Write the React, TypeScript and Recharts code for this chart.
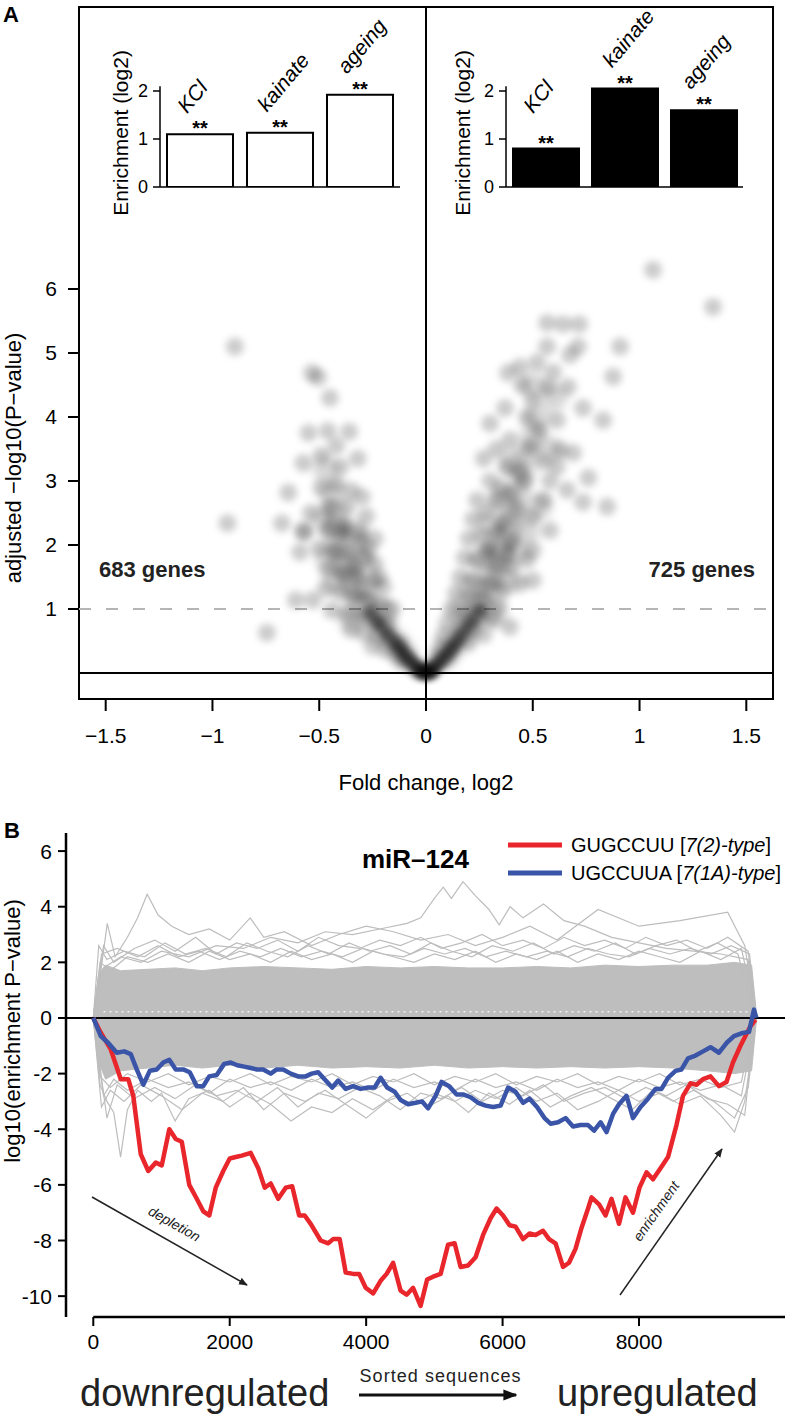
import React from 'react';
import {
  ScatterChart, Scatter, XAxis, YAxis, ReferenceLine, ReferenceArea,
  BarChart, Bar, LabelList, ComposedChart, Line, Area,
} from 'recharts';

const FONT = "'Liberation Sans', Arial, Helvetica, sans-serif";

// ---------- Panel A data ----------
const volcanoTicksX = [-1.5, -1, -0.5, 0, 0.5, 1, 1.5];
const volcanoTicksY = [1, 2, 3, 4, 5, 6];

const volcanoDown: number[][] = [
  [-0.895, 5.1], [-0.93, 2.34], [-0.745, 0.63], [-0.675, 2.34], [-0.645, 2.82], [-0.61, 1.14], [-0.53, 1.14], [-0.59, 1.89], [-0.575, 2.23],
  [-0.535, 4.69], [-0.505, 4.62], [-0.45, 4.3], [-0.55, 3.75], [-0.46, 3.78], [-0.36, 3.77], [-0.575, 3.28], [-0.49, 3.4], [-0.4, 3.22],
  [-0.32, 3.35], [-0.49, 2.9], [-0.54, 2.5], [-0.45, 2.6], [-0.37, 2.6], [-0.57, 2.19], [-0.46, 2.23], [-0.39, 2.19], [-0.31, 2.19],
  [-0.42, 2.95], [-0.35, 2.85], [-0.42, 3.55], [-0.3, 2.75], [-0.28, 2.45],
  [-0.5, 1.95], [-0.43, 1.9], [-0.36, 1.88], [-0.29, 1.82], [-0.24, 1.7], [-0.46, 1.62], [-0.39, 1.56], [-0.32, 1.5], [-0.25, 1.45],
  [-0.2, 1.35], [-0.47, 1.32], [-0.4, 1.26], [-0.34, 1.2], [-0.27, 1.15], [-0.21, 1.08], [-0.44, 0.98], [-0.37, 0.93], [-0.3, 0.88],
  [-0.24, 0.82], [-0.18, 0.76], [-0.35, 0.68], [-0.29, 0.62], [-0.23, 0.58], [-0.17, 0.52], [-0.12, 0.46], [-0.25, 0.42], [-0.19, 0.36],
  [-0.14, 0.32], [-0.09, 0.26], [-0.12, 0.2], [-0.08, 0.15], [-0.05, 0.09], [-0.03, 0.04], [-0.27, 1.95], [-0.22, 1.5], [-0.16, 1.0],
  [-0.33, 1.65], [-0.38, 2.3], [-0.31, 2.05], [-0.24, 2.1],
];

const volcanoUp: number[][] = [
  [1.063, 6.3], [1.344, 5.72], [0.909, 5.1], [0.876, 4.63], [0.829, 3.95], [0.848, 2.6], [0.76, 3.05], [0.393, 0.72],
  [0.567, 5.47], [0.642, 5.45], [0.717, 5.45], [0.567, 5.1], [0.674, 4.97], [0.712, 5.1], [0.44, 4.78], [0.384, 4.69], [0.595, 4.7],
  [0.571, 4.47], [0.665, 4.47], [0.37, 4.14], [0.5, 4.27], [0.473, 4.0], [0.613, 3.95], [0.735, 4.14], [0.393, 3.64], [0.487, 3.53],
  [0.628, 3.48], [0.689, 3.44], [0.38, 3.22], [0.44, 3.13], [0.613, 3.22], [0.66, 2.86], [0.735, 2.67], [0.33, 2.7], [0.426, 2.55],
  [0.5, 2.44], [0.58, 2.23], [0.33, 2.19], [0.286, 1.92], [0.5, 1.92], [0.473, 1.77], [0.5, 1.45], [0.44, 1.4],
  [0.3, 3.0], [0.35, 2.9], [0.27, 3.35], [0.33, 3.5], [0.3, 3.9], [0.45, 4.5], [0.52, 4.85], [0.53, 3.8], [0.55, 3.3], [0.58, 3.0],
  [0.4, 2.8], [0.46, 3.0], [0.55, 2.7],
  [0.22, 2.4], [0.28, 2.5], [0.2, 2.1], [0.26, 2.15], [0.4, 2.05], [0.18, 1.8], [0.24, 1.75], [0.33, 1.7], [0.4, 1.65], [0.16, 1.5],
  [0.22, 1.45], [0.3, 1.4], [0.36, 1.3], [0.14, 1.25], [0.2, 1.2], [0.27, 1.15], [0.34, 1.05], [0.12, 1.0], [0.18, 0.95], [0.25, 0.9],
  [0.31, 0.85], [0.1, 0.78], [0.16, 0.73], [0.22, 0.68], [0.08, 0.58], [0.14, 0.53], [0.2, 0.48], [0.07, 0.4], [0.12, 0.35], [0.05, 0.25],
  [0.09, 0.2], [0.04, 0.12], [0.02, 0.05], [0.27, 0.6], [0.24, 2.7], [0.36, 2.35], [0.3, 1.95], [0.38, 1.85],
];

// broad, soft mass along both arms
const volcanoBody: number[][] = [
  [-0.1, 0.3], [-0.15, 0.5], [-0.2, 0.7], [-0.25, 0.9], [-0.3, 1.1], [-0.33, 1.3], [-0.36, 1.5], [-0.38, 1.7], [-0.4, 1.9], [-0.41, 2.1],
  [-0.42, 2.3], [-0.43, 2.5], [-0.2, 0.95], [-0.35, 0.85], [-0.28, 1.3], [-0.42, 1.45], [-0.3, 1.75], [-0.46, 1.8], [-0.33, 2.2],
  [-0.48, 2.4], [-0.44, 2.8], [-0.47, 3.2],
  [0.1, 0.3], [0.15, 0.5], [0.19, 0.7], [0.23, 0.9], [0.26, 1.1], [0.29, 1.3], [0.31, 1.5], [0.33, 1.7], [0.35, 1.9], [0.37, 2.1],
  [0.39, 2.3], [0.41, 2.5], [0.43, 2.8], [0.45, 3.1], [0.47, 3.4], [0.5, 3.7], [0.52, 4.0], [0.17, 1.0], [0.32, 0.9], [0.22, 1.35],
  [0.38, 1.45], [0.26, 1.8], [0.42, 1.9], [0.3, 2.3], [0.47, 2.2], [0.35, 2.7], [0.53, 2.6], [0.4, 3.3], [0.58, 3.5], [0.5, 4.5],
  [0.6, 4.3],
];

const volcanoCore: number[][] = [
  [0, 0.01], [-0.02, 0.04], [0.02, 0.04], [-0.04, 0.09], [0.04, 0.09], [-0.06, 0.15], [0.06, 0.15], [-0.08, 0.22], [0.08, 0.22],
  [-0.1, 0.3], [0.1, 0.3], [-0.12, 0.38], [0.12, 0.38], [-0.14, 0.47], [0.14, 0.47], [-0.17, 0.57], [0.16, 0.57], [-0.2, 0.68],
  [0.19, 0.7], [-0.23, 0.8], [0.22, 0.82], [-0.01, 0.0], [0.01, 0.0], [-0.03, 0.02], [0.03, 0.02], [-0.26, 0.95], [0.25, 0.98],
];

const insetNames = ['KCl', 'kainate', 'ageing'];
const insetLeftValues = [1.1, 1.13, 1.92];
const insetRightValues = [0.8, 2.05, 1.6];
const insetTicks = [0, 1, 2];

// ---------- Panel B data ----------
const seqTicksX = [0, 2000, 4000, 6000, 8000];
const seqTicksY = [-10, -8, -6, -4, -2, 0, 2, 4, 6];

const bandX = [0, 80, 180, 400, 800, 1200, 1600, 2000, 2500, 3000, 3500, 4000, 4500, 5000, 5500, 6000, 6500, 7000, 7500, 8000, 8500, 9000, 9400, 9650, 9720];
const bandLow = [0, -1.6, -2.2, -1.9, -1.8, -1.7, -1.8, -1.7, -1.8, -1.7, -1.8, -1.75, -1.8, -1.7, -1.8, -1.75, -1.8, -1.75, -1.8, -1.75, -1.8, -1.9, -2.0, -1.9, -0.1];
const bandHigh = [0, 1.6, 1.9, 1.7, 1.75, 1.8, 1.7, 1.8, 1.85, 1.8, 1.75, 1.85, 1.8, 1.85, 1.8, 1.8, 1.85, 1.8, 1.9, 1.85, 1.9, 1.9, 2.0, 1.9, 0.2];

const grayUp1: number[][] = [[0, 0], [150, 1.8], [400, 2.2], [700, 2.0], [1000, 2.4], [1400, 2.2], [1800, 2.6], [2200, 2.5], [2600, 2.9], [3000, 2.7], [3400, 3.1], [3800, 3.0], [4200, 3.2], [4600, 3.4], [4800, 3.6], [5000, 4.3], [5130, 4.7], [5250, 4.3], [5420, 4.9], [5600, 4.4], [5800, 3.9], [5950, 3.35], [6110, 4.0], [6300, 3.6], [6600, 4.1], [6900, 3.5], [7200, 3.3], [7600, 2.9], [8000, 2.7], [8400, 2.5], [8800, 2.4], [9200, 2.3], [9600, 2.1], [9720, 0]];
const grayUp2: number[][] = [[0, 0], [100, 1.5], [205, 3.4], [320, 2.2], [500, 2.9], [650, 3.6], [790, 4.45], [950, 3.7], [1150, 3.3], [1400, 3.0], [1700, 3.2], [2000, 2.8], [2300, 3.6], [2500, 2.9], [2800, 3.1], [3200, 2.6], [3600, 3.0], [4000, 3.3], [4400, 3.1], [4800, 2.8], [5200, 3.0], [5600, 2.6], [6000, 2.9], [6400, 3.3], [6800, 2.8], [7400, 3.9], [8000, 3.3], [8600, 3.5], [9300, 3.8], [9550, 2.6], [9720, 0]];
const grayUp3: number[][] = [[0, 0], [150, 2.6], [300, 2.0], [600, 2.5], [900, 2.8], [1200, 2.4], [1500, 2.9], [1800, 2.3], [2100, 2.7], [2400, 2.5], [2700, 2.8], [3000, 2.4], [3300, 2.9], [3600, 2.6], [3900, 2.5], [4200, 2.8], [4500, 2.6], [4800, 2.9], [5100, 2.5], [5400, 2.7], [5700, 3.0], [6000, 2.6], [6300, 2.8], [6600, 2.5], [6900, 2.9], [7200, 2.6], [7500, 2.8], [7800, 2.5], [8100, 2.9], [8400, 2.6], [8700, 2.8], [9000, 2.5], [9300, 2.9], [9600, 2.4], [9720, 0]];
const grayUp4: number[][] = [[0, 0], [120, 2.3], [350, 2.5], [650, 2.2], [950, 2.6], [1250, 2.2], [1550, 2.4], [1850, 2.1], [2150, 2.4], [2450, 2.2], [2750, 2.5], [3050, 2.2], [3350, 2.4], [3650, 2.2], [3950, 2.5], [4250, 2.3], [4550, 2.2], [4850, 2.5], [5150, 2.3], [5450, 2.5], [5750, 2.2], [6050, 2.4], [6350, 2.2], [6650, 2.4], [6950, 2.2], [7250, 2.5], [7550, 2.3], [7850, 2.2], [8150, 2.5], [8450, 2.3], [8750, 2.5], [9050, 2.3], [9350, 2.6], [9620, 2.3], [9720, 0]];
const grayUp5: number[][] = [[0, 0], [100, 2.0], [250, 1.7], [500, 2.2], [800, 2.0], [1100, 2.3], [1400, 2.0], [1700, 2.4], [2000, 2.1], [2300, 2.3], [2600, 2.0], [2900, 2.4], [3200, 2.1], [3500, 2.3], [3800, 2.0], [4100, 2.4], [4400, 2.2], [4700, 2.0], [5000, 2.3], [5300, 2.1], [5600, 2.4], [5900, 2.0], [6200, 2.3], [6500, 2.1], [6800, 2.4], [7100, 2.0], [7400, 2.3], [7700, 2.1], [8000, 2.4], [8300, 2.2], [8600, 2.0], [8900, 2.4], [9200, 2.1], [9500, 2.5], [9700, 0.3]];
const grayUp6: number[][] = [[0, 0], [80, 2.6], [200, 2.1], [450, 2.4], [750, 2.2], [1050, 2.7], [1350, 2.3], [1650, 2.5], [1950, 2.2], [2250, 2.7], [2550, 2.4], [2850, 2.2], [3150, 2.6], [3450, 2.3], [3750, 2.7], [4050, 2.4], [4350, 2.6], [4650, 2.3], [4950, 2.7], [5250, 2.4], [5550, 2.2], [5850, 2.6], [6150, 2.4], [6450, 2.7], [6750, 2.3], [7050, 2.6], [7350, 2.4], [7650, 2.7], [7950, 2.3], [8250, 2.6], [8550, 2.8], [8850, 2.4], [9150, 2.7], [9450, 2.3], [9700, 0]];
const grayLow1: number[][] = [[0, 0], [100, -2.4], [200, -3.0], [300, -3.4], [400, -5.0], [500, -3.3], [650, -2.6], [850, -3.0], [1000, -2.7], [1200, -3.7], [1400, -2.9], [1700, -2.6], [2000, -3.2], [2300, -2.7], [2600, -3.1], [2900, -3.7], [3200, -3.2], [3500, -3.4], [3800, -2.9], [4100, -3.3], [4400, -2.8], [4700, -3.1], [5000, -2.7], [5300, -3.0], [5600, -2.6], [5900, -2.9], [6200, -2.5], [6500, -3.0], [6800, -2.7], [7100, -3.3], [7400, -3.0], [7700, -2.6], [8000, -3.0], [8300, -2.7], [8600, -3.1], [8900, -2.8], [9200, -3.5], [9400, -4.1], [9550, -3.0], [9720, 0]];
const grayLow2: number[][] = [[0, 0], [120, -3.2], [250, -2.6], [450, -3.0], [700, -2.4], [1000, -2.8], [1300, -3.3], [1600, -2.7], [1900, -3.0], [2200, -2.5], [2500, -3.3], [2800, -2.7], [3100, -3.0], [3400, -2.6], [3700, -3.1], [4000, -3.6], [4300, -3.0], [4600, -2.7], [4900, -3.2], [5200, -2.8], [5500, -3.4], [5800, -2.7], [6100, -3.1], [6400, -2.6], [6700, -3.2], [7000, -2.8], [7300, -2.5], [7600, -2.9], [7900, -3.3], [8200, -2.6], [8500, -3.0], [8800, -2.6], [9100, -3.0], [9400, -3.6], [9600, -2.5], [9720, 0]];
const grayLow3: number[][] = [[0, 0], [150, -2.8], [300, -2.2], [500, -2.6], [800, -2.2], [1100, -2.5], [1400, -2.3], [1700, -2.7], [2000, -2.2], [2300, -2.5], [2600, -2.3], [2900, -2.6], [3200, -2.2], [3500, -2.5], [3800, -2.3], [4100, -2.6], [4400, -2.2], [4700, -2.5], [5000, -2.3], [5300, -2.6], [5600, -2.2], [5900, -2.5], [6200, -2.3], [6500, -2.6], [6800, -2.2], [7100, -2.5], [7400, -2.3], [7700, -2.6], [8000, -2.2], [8300, -2.5], [8600, -2.3], [8900, -2.6], [9200, -2.4], [9500, -2.8], [9720, 0]];
const grayLow4: number[][] = [[0, 0], [100, -2.1], [250, -2.5], [500, -2.0], [800, -2.3], [1100, -2.0], [1400, -2.4], [1700, -2.1], [2000, -2.3], [2300, -2.0], [2600, -2.4], [2900, -2.1], [3200, -2.3], [3500, -2.0], [3800, -2.4], [4100, -2.1], [4400, -2.3], [4700, -2.0], [5000, -2.4], [5300, -2.1], [5600, -2.3], [5900, -2.0], [6200, -2.4], [6500, -2.1], [6800, -2.3], [7100, -2.0], [7400, -2.4], [7700, -2.1], [8000, -2.3], [8300, -2.0], [8600, -2.4], [8900, -2.2], [9200, -2.5], [9500, -2.3], [9700, 0]];
const grayLow5: number[][] = [[0, 0], [200, -3.6], [350, -2.4], [600, -2.9], [900, -2.5], [1200, -2.9], [1500, -2.4], [1800, -2.8], [2100, -2.6], [2400, -3.0], [2700, -2.5], [3000, -3.2], [3300, -2.7], [3600, -2.9], [3900, -2.5], [4200, -2.8], [4500, -3.3], [4800, -2.7], [5100, -2.9], [5400, -2.5], [5700, -3.0], [6000, -2.6], [6300, -2.8], [6600, -2.4], [6900, -3.0], [7200, -2.7], [7500, -2.5], [7800, -2.9], [8100, -2.5], [8400, -2.8], [8700, -2.4], [9000, -2.9], [9300, -3.1], [9550, -3.5], [9700, 0]];

const redSeed: number[][] = [[0, 0], [110, -0.53], [256, -1.13], [403, -2.2], [513, -2.2], [586, -2.8], [696, -4.9], [806, -5.5], [916, -5.2], [1004, -5.3], [1114, -4.0], [1209, -4.35], [1297, -4.45], [1407, -6.0], [1517, -6.5], [1612, -6.95], [1700, -7.1], [1795, -6.1], [1905, -5.5], [2000, -5.05], [2088, -5.0], [2176, -4.95], [2308, -4.85], [2418, -5.4], [2513, -6.1], [2601, -5.95], [2711, -6.5], [2821, -6.1], [2916, -6.05], [3018, -7.1], [3099, -7.1], [3187, -7.4], [3333, -8.0], [3443, -8.1], [3516, -7.95], [3612, -7.95], [3700, -9.15], [3810, -9.2], [3897, -9.2], [3993, -9.7], [4103, -9.9], [4212, -9.45], [4300, -9.2], [4395, -8.8], [4505, -9.8], [4593, -9.95], [4688, -9.7], [4798, -10.35], [4894, -9.4], [4982, -9.3], [5092, -9.2], [5201, -8.15], [5297, -8.1], [5385, -8.95], [5494, -8.9], [5604, -8.6], [5714, -7.8], [5824, -7.2], [5912, -6.85], [6007, -7.1], [6102, -7.45], [6190, -7.5], [6300, -7.95], [6395, -7.75], [6483, -7.8], [6593, -7.65], [6681, -7.95], [6776, -8.1], [6886, -8.95], [6974, -8.8], [7069, -8.3], [7157, -7.55], [7253, -6.85], [7304, -6.45], [7414, -6.7], [7509, -7.1], [7597, -6.5], [7707, -7.4], [7802, -6.45], [7912, -7.0], [8007, -6.1], [8110, -5.55], [8205, -5.8], [8315, -5.4], [8425, -5.0], [8549, -3.85], [8645, -2.8], [8755, -2.35], [8843, -2.4], [8938, -2.2], [9048, -2.1], [9172, -2.45], [9282, -2.3], [9377, -1.6], [9487, -1.0], [9633, -0.3], [9707, -0.06]];
const blueSeed: number[][] = [[0, 0], [110, -0.65], [220, -0.9], [344, -1.25], [454, -1.2], [549, -1.3], [637, -1.85], [733, -2.4], [828, -1.9], [930, -1.85], [1026, -1.6], [1114, -1.5], [1209, -1.85], [1319, -1.85], [1414, -1.95], [1517, -2.45], [1612, -2.45], [1700, -2.1], [1809, -2.05], [1919, -1.65], [2015, -1.6], [2110, -1.7], [2212, -1.75], [2308, -1.8], [2396, -1.85], [2491, -1.85], [2601, -2.0], [2689, -1.85], [2784, -1.85], [2894, -2.0], [3004, -2.1], [3114, -2.1], [3201, -2.0], [3297, -1.95], [3407, -2.25], [3502, -2.5], [3590, -2.25], [3700, -2.55], [3810, -2.45], [3919, -2.55], [4029, -2.5], [4124, -2.5], [4212, -2.15], [4307, -2.5], [4418, -2.65], [4505, -2.95], [4615, -3.1], [4725, -3.05], [4820, -3.0], [4908, -3.25], [5018, -2.8], [5106, -2.3], [5216, -2.45], [5326, -2.75], [5421, -2.75], [5531, -2.85], [5641, -3.05], [5751, -3.15], [5861, -3.2], [5971, -3.15], [6081, -2.5], [6190, -2.65], [6300, -3.05], [6395, -2.9], [6505, -3.2], [6615, -3.6], [6703, -3.8], [6813, -3.75], [6923, -3.6], [7033, -3.9], [7143, -3.85], [7253, -3.85], [7341, -4.05], [7436, -3.75], [7524, -4.1], [7619, -3.45], [7707, -3.1], [7817, -2.8], [7912, -3.6], [8022, -3.2], [8132, -2.9], [8242, -2.55], [8330, -2.55], [8425, -2.15], [8535, -1.9], [8623, -1.85], [8718, -1.45], [8828, -1.35], [8938, -1.2], [9048, -1.05], [9172, -1.25], [9282, -0.9], [9392, -0.65], [9502, -0.55], [9612, -0.5], [9685, 0.3], [9720, 0.0]];

// ---------- helpers ----------
const toXY = (arr: number[][]) => arr.map(([x, y]) => ({ x, y }));
const minus = (v: number) => String(v).replace('-', '\u2212');
const blob = (op: number, r: number, filt: string) => (p: any) => (
  <circle cx={p.cx} cy={p.cy} r={r} fill="#000" fillOpacity={op} filter={`url(#${filt})`} />
);

const bandTable = bandX.map((x, i) => ({ x, range: [bandLow[i], bandHigh[i]] }));
const grayLines = [grayUp1, grayUp2, grayUp3, grayUp4, grayUp5, grayUp6, grayLow1, grayLow2, grayLow3, grayLow4, grayLow5];

const insetLabel = (values: number[]) => (props: any) => {
  const { x, y, width, height, value } = props;
  const idx = insetNames.indexOf(value);
  const v = values[idx];
  const ppu = height / v;
  const base = y + height;
  const labelTop = base - Math.max(v, 1.1) * ppu;
  const cx = x + width / 2;
  const sx = cx - 13;
  const sy = labelTop - 20;
  return (
    <g>
      <text x={cx} y={y + 1} textAnchor="middle" fontSize={20} fontWeight="bold" fill="#000" fontFamily={FONT}>**</text>
      <text x={sx} y={sy} transform={`rotate(-50 ${sx} ${sy})`} fontSize={21} fontStyle="italic" fill="#000" fontFamily={FONT}>{value}</text>
    </g>
  );
};

const Inset = ({ values, fill, left, marginLeft, marginRight, width }: any) => {
  const data = insetNames.map((name, i) => ({ name, v: values[i] }));
  return (
    <div style={{ position: 'absolute', left, top: 0 }}>
      <BarChart width={width} height={200} data={data} margin={{ top: 86.2, right: marginRight, left: marginLeft, bottom: 13 }}>
        <XAxis dataKey="name" hide />
        <YAxis domain={[0, 2.1]} ticks={insetTicks} width={40} tickSize={7} tickMargin={5}
          axisLine={{ stroke: '#000', strokeWidth: 1.5 }} tickLine={{ stroke: '#000', strokeWidth: 1.5 }}
          tick={{ fill: '#000', fontSize: 18, fontFamily: FONT }} allowDataOverflow />
        <ReferenceLine y={0} stroke="#000" strokeWidth={1.5} />
        <Bar dataKey="v" fill={fill} stroke="#000" strokeWidth={2} barSize={66} isAnimationActive={false}>
          <LabelList dataKey="name" content={insetLabel(values)} />
        </Bar>
      </BarChart>
    </div>
  );
};

export default function App() {
  const tickA = { fill: '#000', fontSize: 21, fontFamily: FONT };
  const tickB = { fill: '#000', fontSize: 21, fontFamily: FONT };
  return (
    <div style={{ position: 'absolute', left: 0, top: 0, width: 787, height: 1416, background: '#fff', fontFamily: FONT, overflow: 'hidden' }}>
      {/* Panel A volcano */}
      <div style={{ position: 'absolute', left: 0, top: 0 }}>
        <ScatterChart width={787} height={800} margin={{ top: 7, right: 14, left: 19, bottom: 41 }}>
          <XAxis type="number" dataKey="x" domain={[-1.625, 1.625]} ticks={volcanoTicksX} allowDataOverflow height={60}
            tickSize={12} tickMargin={17} axisLine={false} tickLine={{ stroke: '#000', strokeWidth: 2 }} tick={tickA}
            tickFormatter={minus} />
          <YAxis type="number" dataKey="y" domain={[-0.406, 10.406]} ticks={volcanoTicksY} allowDataOverflow width={60}
            tickSize={11} tickMargin={11} axisLine={false} tickLine={{ stroke: '#000', strokeWidth: 2 }} tick={tickA} />
          <Scatter data={toXY(volcanoBody)} shape={blob(0.16, 13, 'blurC')} isAnimationActive={false} />
          <Scatter data={toXY(volcanoDown)} shape={blob(0.2, 9, 'blurA')} isAnimationActive={false} />
          <Scatter data={toXY(volcanoUp)} shape={blob(0.2, 9, 'blurA')} isAnimationActive={false} />
          <Scatter data={toXY(volcanoCore)} shape={blob(0.42, 7, 'blurB')} isAnimationActive={false} />
          <ReferenceLine y={1} stroke="#b5b5b5" strokeWidth={2} strokeDasharray="12 15" />
          <ReferenceLine y={0} stroke="#000" strokeWidth={2} />
          <ReferenceLine x={0} stroke="#000" strokeWidth={2} />
          <ReferenceArea x1={-1.625} x2={1.625} y1={-0.406} y2={10.406} fill="none" stroke="#000" strokeWidth={2} />
        </ScatterChart>
      </div>

      <Inset values={insetLeftValues} fill="#fff" left={100} width={310} marginLeft={20} marginRight={10} />
      <Inset values={insetRightValues} fill="#000" left={440} width={320} marginLeft={26} marginRight={17} />

      {/* Panel B */}
      <div style={{ position: 'absolute', left: 0, top: 800 }}>
        <ComposedChart width={787} height={616} data={bandTable} margin={{ top: 33, right: 2, left: 10, bottom: 49 }}>
          <XAxis type="number" dataKey="x" domain={[-400, 10140]} ticks={seqTicksX} allowDataOverflow height={50}
            tickSize={9} tickMargin={8} axisLine={false} tickLine={{ stroke: '#000', strokeWidth: 2 }} tick={tickB} />
          <YAxis type="number" domain={[-10.75, 6.65]} ticks={seqTicksY} allowDataOverflow width={56}
            tickSize={8} tickMargin={6} axisLine={{ stroke: '#000', strokeWidth: 2.5 }} tickLine={{ stroke: '#000', strokeWidth: 2 }} tick={tickB} />
          <Area dataKey="range" type="linear" fill="#bebebe" fillOpacity={1} stroke="#bebebe" strokeWidth={1} isAnimationActive={false} />
          {grayLines.map((g, i) => (
            <Line key={i} data={toXY(g)} dataKey="y" type="linear" stroke="#bdbdbd" strokeWidth={1.2} dot={false} isAnimationActive={false} />
          ))}
          <Line data={toXY([[150, 0.22], [9600, 0.22]])} dataKey="y" stroke="#fff" strokeOpacity={0.75} strokeWidth={1.5} strokeDasharray="2 4" dot={false} isAnimationActive={false} />
          <Line data={toXY([[-400, 0], [10140, 0]])} dataKey="y" stroke="#000" strokeWidth={2} dot={false} isAnimationActive={false} />
          <Line data={toXY(redSeed)} dataKey="y" type="linear" stroke="#e8262b" strokeWidth={4.5} strokeLinejoin="round" dot={false} isAnimationActive={false} />
          <Line data={toXY(blueSeed)} dataKey="y" type="linear" stroke="#3a55a8" strokeWidth={4.5} strokeLinejoin="round" dot={false} isAnimationActive={false} />
          <ReferenceLine segment={[{ x: 0, y: -10.75 }, { x: 10140, y: -10.75 }]} stroke="#000" strokeWidth={2.5} ifOverflow="visible" />
        </ComposedChart>
      </div>

      {/* Annotations */}
      <svg width={787} height={1416} style={{ position: 'absolute', left: 0, top: 0, pointerEvents: 'none' }} fontFamily={FONT}>
        <defs>
          <filter id="blurA" x="-100%" y="-100%" width="300%" height="300%">
            <feGaussianBlur stdDeviation={3.5} />
          </filter>
          <filter id="blurB" x="-100%" y="-100%" width="300%" height="300%">
            <feGaussianBlur stdDeviation={3} />
          </filter>
          <filter id="blurC" x="-100%" y="-100%" width="300%" height="300%">
            <feGaussianBlur stdDeviation={5} />
          </filter>
          <marker id="arrThin" viewBox="0 0 10 10" refX="9" refY="5" markerWidth="9" markerHeight="9" orient="auto" markerUnits="userSpaceOnUse">
            <path d="M0,1 L10,5 L0,9 z" fill="#222" />
          </marker>
          <marker id="arrThick" viewBox="0 0 10 10" refX="9" refY="5" markerWidth="14" markerHeight="14" orient="auto" markerUnits="userSpaceOnUse">
            <path d="M0,1 L10,5 L0,9 z" fill="#111" />
          </marker>
        </defs>
        <text x={3} y={22} fontSize={22} fontWeight="bold">A</text>
        <text x={4} y={838} fontSize={22} fontWeight="bold">B</text>

        <text x={99} y={577} fontSize={22} fontWeight="bold" fill="#222">683 genes</text>
        <text x={755} y={577} fontSize={22} fontWeight="bold" fill="#222" textAnchor="end">725 genes</text>
        <text x={426} y={790} fontSize={22} textAnchor="middle">Fold change, log2</text>
        <text transform="translate(21,458) rotate(-90)" fontSize={22} textAnchor="middle">adjusted −log10(P−value)</text>
        <text transform="translate(128,133) rotate(-90)" fontSize={21} textAnchor="middle">Enrichment (log2)</text>
        <text transform="translate(470,133) rotate(-90)" fontSize={21} textAnchor="middle">Enrichment (log2)</text>

        <text transform="translate(20,1031) rotate(-90)" fontSize={22} textAnchor="middle">log10(enrichment P−value)</text>
        <text x={362} y={868} fontSize={26} fontWeight="bold">miR–124</text>
        <line x1={508} y1={845} x2={562} y2={845} stroke="#e8262b" strokeWidth={5} />
        <line x1={508} y1={873} x2={562} y2={873} stroke="#3a55a8" strokeWidth={5} />
        <text x={571} y={852} fontSize={20}>GUGCCUU [<tspan fontStyle="italic">7(2)-type</tspan>]</text>
        <text x={571} y={880} fontSize={20}>UGCCUUA [<tspan fontStyle="italic">7(1A)-type</tspan>]</text>

        <line x1={92} y1={1197} x2={247} y2={1285} stroke="#222" strokeWidth={1.5} markerEnd="url(#arrThin)" />
        <text transform="translate(172,1228) rotate(29.6)" fontSize={14} fontStyle="italic" textAnchor="middle" fill="#222">depletion</text>
        <line x1={620} y1={1295} x2={722} y2={1149} stroke="#222" strokeWidth={1.5} markerEnd="url(#arrThin)" />
        <text transform="translate(660,1214) rotate(-55)" fontSize={14} fontStyle="italic" textAnchor="middle" fill="#222">enrichment</text>

        <text x={440} y={1382} fontSize={18} textAnchor="middle" textLength={161} fill="#222">Sorted sequences</text>
        <line x1={359} y1={1395} x2={516} y2={1395} stroke="#111" strokeWidth={3} markerEnd="url(#arrThick)" />
        <text x={80} y={1406} fontSize={38} fill="#222">downregulated</text>
        <text x={557} y={1406} fontSize={38} fill="#222">upregulated</text>
      </svg>
    </div>
  );
}
